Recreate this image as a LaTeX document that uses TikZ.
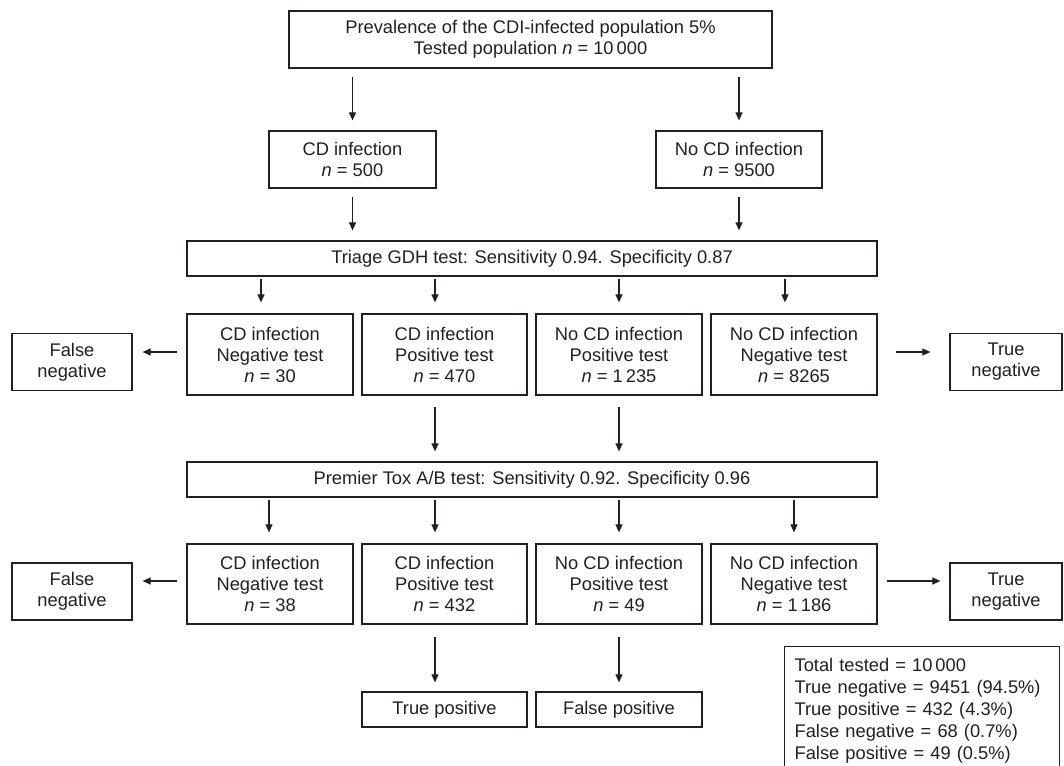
\documentclass[tikz,border=0pt]{standalone}
\usepackage{fontspec}
\setmainfont{Liberation Sans}
\usetikzlibrary{arrows.meta,calc}
\definecolor{ink}{RGB}{35,31,32}
\begin{document}
\begin{tikzpicture}[x=1pt,y=-1pt,
  every node/.style={font=\fontsize{18.3}{21}\selectfont, text=ink},
  bx/.style={draw=ink, line width=1.2pt, align=center, inner sep=0pt},
  rowbox/.style={bx, minimum width=166pt, minimum height=81pt},
  sidebox/.style={bx, minimum width=120pt, minimum height=57pt},
  testbox/.style={bx, minimum width=690pt, minimum height=35pt},
  arr/.style={draw=ink, line width=1.1pt, -{Triangle[length=8pt,width=7pt]}}]
\useasboundingbox (0,0) rectangle (1064,765);
\clip (0,0) rectangle (1064,765);

% top
\node[bx, minimum width=483pt, minimum height=57pt] (top) at (530.5,39.5)
  {Prevalence of the CDI-infected population 5\%\\Tested population \textit{n} = 10\,000};
\node[bx, minimum width=167pt, minimum height=57pt] (cd) at (352.5,159.5)
  {CD infection\\\textit{n} = 500};
\node[bx, minimum width=166pt, minimum height=57pt] (nocd) at (739,159.5)
  {No CD infection\\\textit{n} = 9500};
\node[testbox] (triage) at (532,258.5)
  {Triage GDH test: Sensitivity 0.94. Specificity 0.87};

% row 1
\node[rowbox] (r1a) at (270,354.5) {CD infection\\Negative test\\\textit{n} = 30};
\node[rowbox, minimum width=165pt] (r1b) at (444.5,354.5) {CD infection\\Positive test\\\textit{n} = 470};
\node[rowbox] (r1c) at (619,354.5) {No CD infection\\Positive test\\\textit{n} = 1\,235};
\node[rowbox] (r1d) at (794,354.5) {No CD infection\\Negative test\\\textit{n} = 8265};
\node[sidebox] (fn1) at (72,362) {False\\negative};
\node[sidebox, minimum width=112pt] (tn1) at (1006,362) {True\\negative};

\node[testbox] (premier) at (532,479.5)
  {Premier Tox A/B test: Sensitivity 0.92. Specificity 0.96};

% row 2
\node[rowbox, minimum height=80pt] (r2a) at (270,584) {CD infection\\Negative test\\\textit{n} = 38};
\node[rowbox, minimum height=80pt, minimum width=165pt] (r2b) at (444.5,584) {CD infection\\Positive test\\\textit{n} = 432};
\node[rowbox, minimum height=80pt] (r2c) at (619,584) {No CD infection\\Positive test\\\textit{n} = 49};
\node[rowbox, minimum height=80pt] (r2d) at (794,584) {No CD infection\\Negative test\\\textit{n} = 1\,186};
\node[sidebox] (fn2) at (72,591.5) {False\\negative};
\node[sidebox, minimum width=112pt] (tn2) at (1006,591.5) {True\\negative};

\node[bx, minimum width=165pt, minimum height=35pt] (tp) at (444.5,709.5) {True positive};
\node[bx, minimum width=166pt, minimum height=35pt] (fp) at (619,709.5) {False positive};

\node[bx, anchor=north west, align=left, font=\fontsize{18.3}{22}\selectfont,
  text width=255pt, inner xsep=10pt, inner ysep=12pt] (sum) at (784,646)
  {Total tested = 10\,000\\
   True negative = 9451 (94.5\%)\\
   True positive = 432 (4.3\%)\\
   False negative = 68 (0.7\%)\\
   False positive = 49 (0.5\%)};

% arrows
\draw[arr] ($(top.south -| cd.north)+(0,8)$) -- ($(cd.north)+(0,-10)$);
\draw[arr] ($(top.south -| nocd.north)+(0,8)$) -- ($(nocd.north)+(0,-10)$);
\draw[arr] ($(cd.south)+(0,8)$) -- ($(triage.north -| cd.south)+(0,-10)$);
\draw[arr] ($(nocd.south)+(0,8)$) -- ($(triage.north -| nocd.south)+(0,-10)$);

\draw[arr] ($(triage.south -| r1a.north)+(-9,2)$) -- ($(r1a.north)+(-9,-11)$);
\draw[arr] ($(triage.south -| r1b.north)+(-9.5,2)$) -- ($(r1b.north)+(-9.5,-11)$);
\draw[arr] ($(triage.south -| r1c.north)+(0,2)$) -- ($(r1c.north)+(0,-11)$);
\draw[arr] ($(triage.south -| r1d.north)+(-9,2)$) -- ($(r1d.north)+(-9,-11)$);

\draw[arr] ($(r1a.west)+(-9,-2.5)$) -- ($(fn1.east)+(10,-10)$);
\draw[arr] ($(r1d.east)+(18,-2.5)$) -- ($(tn1.west)+(-19,-10)$);

\draw[arr] ($(r1b.south)+(-9.5,11)$) -- ($(premier.north -| r1b.south)+(-9.5,-10)$);
\draw[arr] ($(r1c.south)+(0,11)$) -- ($(premier.north -| r1c.south)+(0,-10)$);

\draw[arr] ($(premier.south -| r2a.north)+(-1,2)$) -- ($(r2a.north)+(-1,-11)$);
\draw[arr] ($(premier.south -| r2b.north)+(-9.5,2)$) -- ($(r2b.north)+(-9.5,-11)$);
\draw[arr] ($(premier.south -| r2c.north)+(0,2)$) -- ($(r2c.north)+(0,-11)$);
\draw[arr] ($(premier.south -| r2d.north)+(0,2)$) -- ($(r2d.north)+(0,-11)$);

\draw[arr] ($(r2a.west)+(-9,-3)$) -- ($(fn2.east)+(10,-10.5)$);
\draw[arr] ($(r2d.east)+(9,-3)$) -- ($(tn2.west)+(-9,-10.5)$);

\draw[arr] ($(r2b.south)+(-9.5,12)$) -- ($(tp.north)+(-9.5,-9)$);
\draw[arr] ($(r2c.south)+(0,12)$) -- ($(fp.north)+(0,-9)$);
\end{tikzpicture}
\end{document}
